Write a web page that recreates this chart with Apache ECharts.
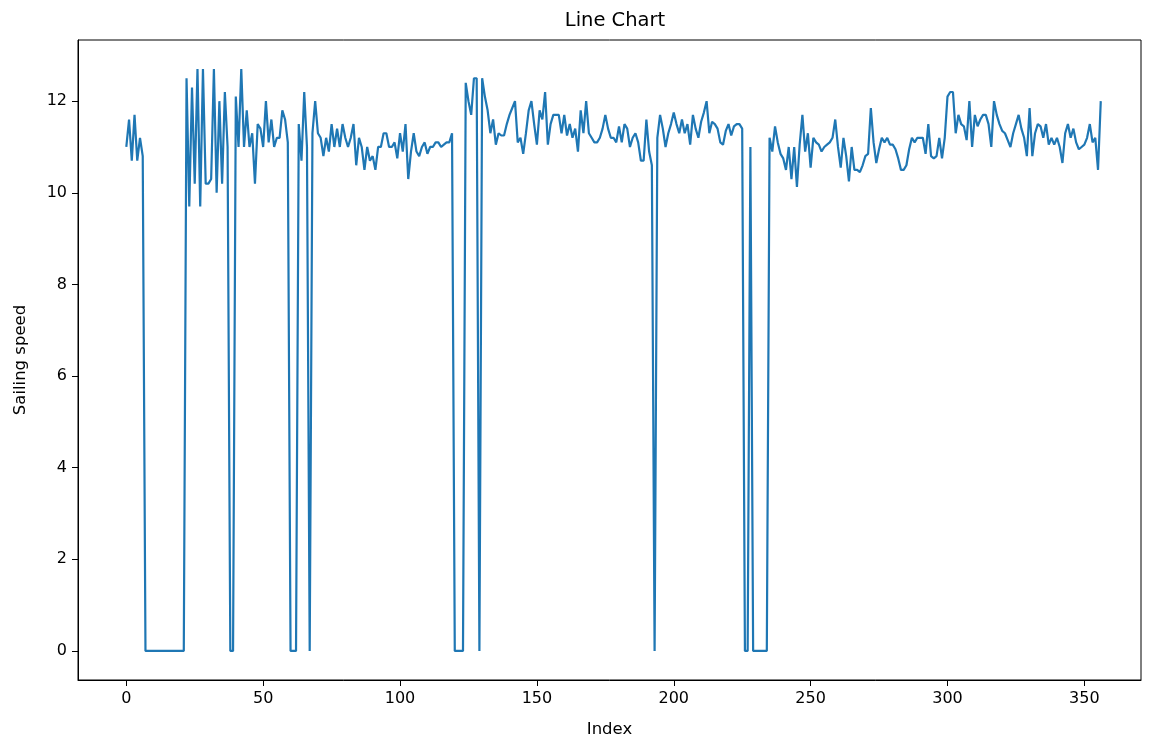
<!DOCTYPE html>
<html>
<head>
<meta charset="utf-8">
<script src="https://cdn.jsdelivr.net/npm/echarts@6/dist/echarts.min.js"></script>
<style>
  html, body { margin: 0; padding: 0; background: #fff; }
  #chart { width: 1150px; height: 740px; }
</style>
</head>
<body>
<div id="chart"></div>
<script>
// Sailing speed per index
const speeds = [
  11.0, 11.6, 10.7, 11.7, 10.7, 11.2, 10.8, 0, 0, 0,
  0, 0, 0, 0, 0, 0, 0, 0, 0, 0,
  0, 0, 12.5, 9.7, 12.3, 10.2, 12.7, 9.7, 12.7, 10.2,
  10.2, 10.3, 12.7, 10.0, 12.0, 10.2, 12.2, 11.0, 0, 0,
  12.1, 11.0, 12.7, 11.0, 11.8, 11.0, 11.3, 10.2, 11.5, 11.4,
  11.0, 12.0, 11.1, 11.6, 11.0, 11.2, 11.2, 11.8, 11.6, 11.1,
  0, 0, 0, 11.5, 10.7, 12.2, 11.0, 0, 11.3, 12.0,
  11.3, 11.2, 10.8, 11.2, 10.9, 11.5, 11.0, 11.4, 11.0, 11.5,
  11.2, 11.0, 11.2, 11.5, 10.6, 11.2, 11.0, 10.5, 11.0, 10.7,
  10.8, 10.5, 11.0, 11.0, 11.3, 11.3, 11.0, 11.0, 11.1, 10.75,
  11.3, 10.9, 11.5, 10.3, 10.9, 11.3, 10.9, 10.8, 11.0, 11.1,
  10.85, 11.0, 11.0, 11.1, 11.1, 11.0, 11.05, 11.1, 11.1, 11.3,
  0, 0, 0, 0, 12.4, 12.0, 11.7, 12.5, 12.5, 0,
  12.5, 12.1, 11.8, 11.3, 11.6, 11.05, 11.3, 11.25, 11.25, 11.5,
  11.7, 11.85, 12.0, 11.1, 11.2, 10.85, 11.3, 11.8, 12.0, 11.5,
  11.05, 11.8, 11.6, 12.2, 11.05, 11.5, 11.7, 11.7, 11.7, 11.3,
  11.7, 11.25, 11.5, 11.2, 11.4, 10.9, 11.8, 11.3, 12.0, 11.3,
  11.2, 11.1, 11.1, 11.2, 11.4, 11.7, 11.4, 11.2, 11.2, 11.1,
  11.45, 11.1, 11.5, 11.4, 11.0, 11.2, 11.3, 11.1, 10.7, 10.7,
  11.6, 10.9, 10.6, 0, 11.2, 11.7, 11.4, 11.0, 11.3, 11.5,
  11.75, 11.5, 11.3, 11.6, 11.3, 11.5, 11.05, 11.7, 11.4, 11.2,
  11.55, 11.75, 12.0, 11.3, 11.55, 11.5, 11.4, 11.1, 11.05, 11.35,
  11.5, 11.25, 11.45, 11.5, 11.5, 11.4, 0, 0, 11.0, 0,
  0, 0, 0, 0, 0, 11.2, 10.9, 11.45, 11.1, 10.85,
  10.75, 10.5, 11.0, 10.3, 11.0, 10.13, 11.05, 11.7, 10.9, 11.3,
  10.55, 11.2, 11.1, 11.05, 10.9, 11.0, 11.05, 11.1, 11.2, 11.6,
  11.0, 10.55, 11.2, 10.8, 10.25, 11.0, 10.5, 10.5, 10.45, 10.6,
  10.8, 10.85, 11.85, 11.1, 10.65, 10.95, 11.2, 11.1, 11.2, 11.05,
  11.05, 10.95, 10.75, 10.5, 10.5, 10.6, 10.95, 11.2, 11.1, 11.2,
  11.2, 11.2, 10.85, 11.5, 10.8, 10.75, 10.8, 11.2, 10.75, 11.2,
  12.1, 12.2, 12.2, 11.3, 11.7, 11.5, 11.45, 11.15, 12.0, 11.0,
  11.7, 11.45, 11.6, 11.7, 11.7, 11.5, 11.0, 12.0, 11.7, 11.5,
  11.35, 11.3, 11.15, 11.0, 11.3, 11.5, 11.7, 11.4, 11.2, 10.8,
  11.85, 10.8, 11.3, 11.5, 11.45, 11.2, 11.5, 11.05, 11.2, 11.05,
  11.2, 11.0, 10.65, 11.3, 11.5, 11.2, 11.4, 11.1, 10.95, 11.0,
  11.05, 11.2, 11.5, 11.1, 11.2, 10.5, 12.0
];
const xTicks = [0, 50, 100, 150, 200, 250, 300, 350];
const yTicks = [0, 2, 4, 6, 8, 10, 12];
const titleText = 'Line Chart';
const xName = 'Index';
const yName = 'Sailing speed';

const yMaxData = Math.max(...speeds);
const yMinData = Math.min(...speeds);
const ySpan = yMaxData - yMinData;
const points = speeds.map((v, i) => [i, v]);

const FONT = 'DejaVu Sans';
const chart = echarts.init(document.getElementById('chart'), null, { renderer: 'canvas' });
chart.setOption({
  animation: false,
  backgroundColor: '#ffffff',
  title: {
    text: titleText,
    left: 610,
    top: 6,
    textAlign: 'center',
    textStyle: { fontFamily: FONT, fontSize: 19.5, fontWeight: 'normal', color: '#000' }
  },
  grid: {
    left: 78, right: 9, top: 40, bottom: 60,
    outerBoundsMode: 'none',
    containLabel: false,
    show: true, borderColor: '#000', borderWidth: 1, backgroundColor: 'transparent'
  },
  xAxis: {
    type: 'value',
    min: -17.65,
    max: 370.7,
    name: xName,
    nameLocation: 'middle',
    nameGap: 41,
    nameTextStyle: { fontFamily: FONT, fontSize: 16.5, color: '#000' },
    axisLine: { show: true, onZero: false, lineStyle: { color: '#000', width: 1 } },
    axisTick: { show: true, inside: false, length: 6, customValues: xTicks, lineStyle: { color: '#000', width: 1 } },
    axisLabel: { show: true, margin: 11, customValues: xTicks, fontFamily: FONT, fontSize: 16, color: '#000' },
    splitLine: { show: false }
  },
  yAxis: {
    type: 'value',
    min: yMinData - 0.05 * ySpan,
    max: yMaxData + 0.05 * ySpan,
    name: yName,
    nameLocation: 'middle',
    nameGap: 49,
    nameTextStyle: { fontFamily: FONT, fontSize: 16.5, color: '#000' },
    axisLine: { show: true, onZero: false, lineStyle: { color: '#000', width: 1 } },
    axisTick: { show: true, inside: false, length: 6, customValues: yTicks, lineStyle: { color: '#000', width: 1 } },
    axisLabel: { show: true, margin: 11, customValues: yTicks, fontFamily: FONT, fontSize: 16, color: '#000' },
    splitLine: { show: false }
  },
  series: [{
    type: 'line',
    data: points,
    showSymbol: false,
    symbol: 'none',
    lineStyle: { color: '#1f77b4', width: 2.2 },
    itemStyle: { color: '#1f77b4' },
    clip: true
  }]
});
</script>
</body>
</html>
